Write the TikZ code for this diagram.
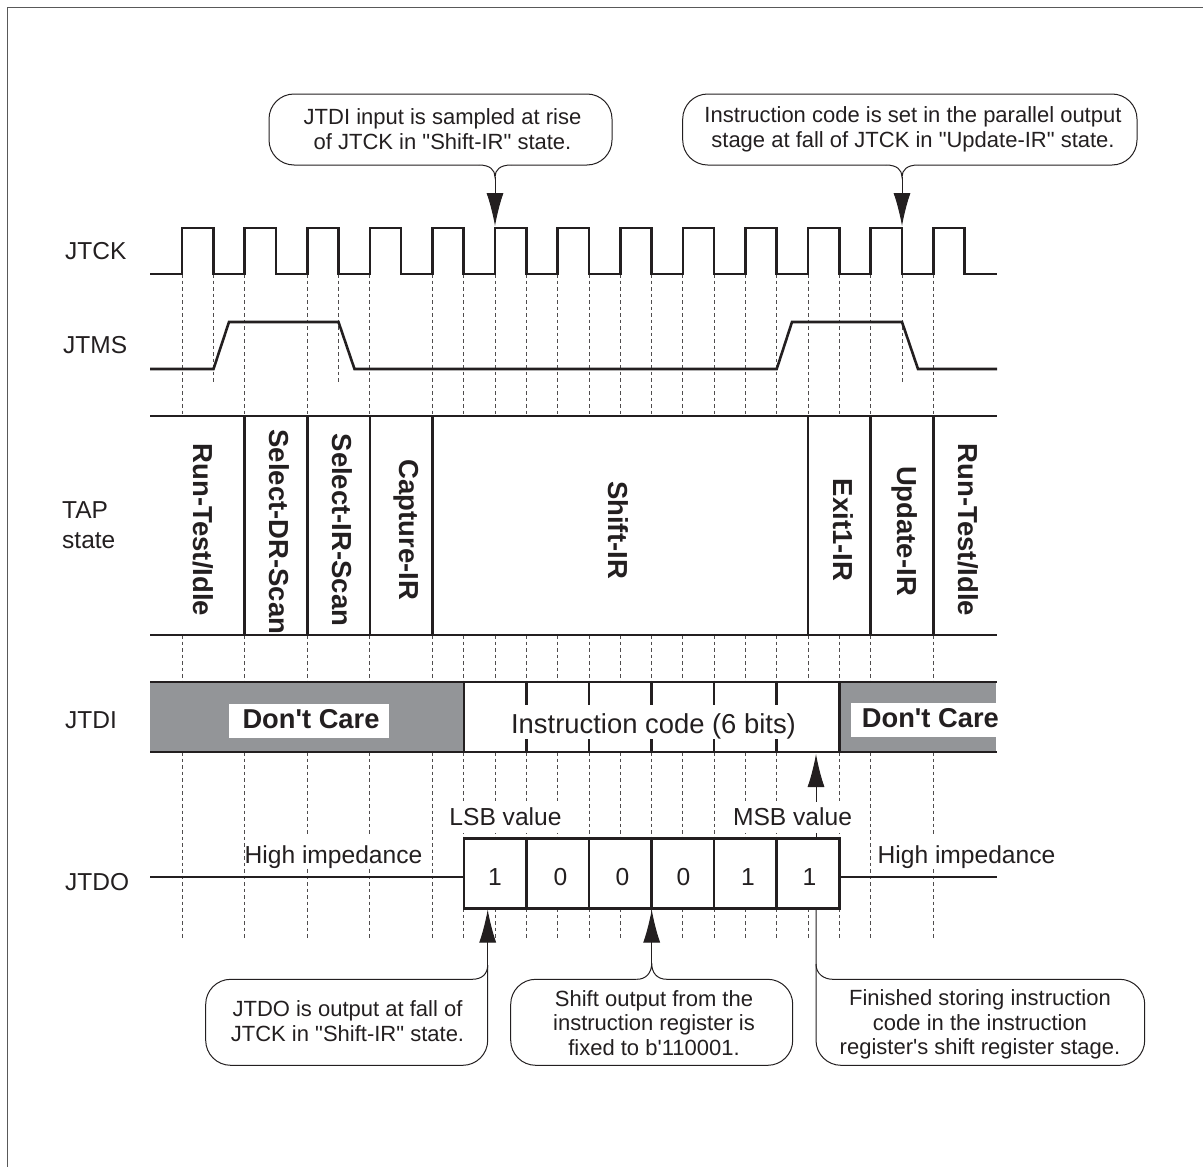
\documentclass[tikz,border=0pt]{standalone}
\usepackage{fontspec}
\setmainfont{Liberation Sans}[Ligatures=TeXOff]
\usetikzlibrary{arrows.meta, calc}

\definecolor{inkdark}{HTML}{231F20}
\definecolor{maskgray}{HTML}{939598}

\tikzset{
  wave/.style={line width=2.6pt, color=inkdark, line join=miter},
  gridline/.style={line width=0.7pt, color=inkdark!80, dash pattern=on 3.5pt off 3pt},
  thinline/.style={line width=1pt, color=inkdark},
  bubble/.style={line width=1pt, color=inkdark, rounded corners=25pt},
  pointer/.style={line width=1pt, color=inkdark, -{Latex[length=33pt, width=17pt]}},
  note/.style={font=\fontsize{22}{24.8}\selectfont, align=center, inner sep=0pt, text=inkdark},
  siglabel/.style={font=\fontsize{24.5}{30}\selectfont, anchor=west, inner sep=0pt, text=inkdark},
  tapstate/.style={font=\fontsize{27.5}{30}\selectfont\bfseries, rotate=-90, inner sep=0pt, text=inkdark},
  bitvalue/.style={font=\fontsize{24.6}{30}\selectfont, inner sep=0pt, text=inkdark},
  gaplabel/.style={font=\fontsize{24.6}{30}\selectfont, fill=white, inner sep=0pt, text=inkdark},
  dontcare/.style={font=\fontsize{27.3}{30}\selectfont\bfseries, inner sep=0pt, text=inkdark}
}

\begin{document}
\begin{tikzpicture}[x=1pt, y=-1pt]
  \useasboundingbox (0,0) rectangle (1203,1167);

  % Outer frame (top and left only)
  \draw[line width=1.8pt, color=black!65] (7.5,1167) -- (7.5,7.5) -- (1203,7.5);

  % Dashed clock-edge guides
  \foreach \k in {0,2,4,6,8,9,...,22,24} {
    \draw[gridline] ({182+31.3*\k},274) -- ({182+31.3*\k},416);
    \draw[gridline] ({182+31.3*\k},635) -- ({182+31.3*\k},682);
  }
  \foreach \k in {1,5,23} \draw[gridline] ({182+31.3*\k},274) -- ({182+31.3*\k},382);
  \foreach \k in {0,2,4,6,8,9,...,19,21,22,24} \draw[gridline] ({182+31.3*\k},752) -- ({182+31.3*\k},940);
  \draw[gridline] ({182+31.3*20},908) -- ({182+31.3*20},940);

  % JTCK
  \node[siglabel] (jtck) at (65,251) {JTCK};
  \draw[wave] (150,274)
    foreach \k in {0,2,...,24} {
      -- ({182+31.3*\k},274) -- ({182+31.3*\k},228) -- ({182+31.3*(\k+1)},228) -- ({182+31.3*(\k+1)},274)
    } -- (997,274);

  % JTMS
  \node[siglabel] (jtms) at (63,345) {JTMS};
  \draw[wave] (150,369) -- (213.5,369) -- (229,322) -- (338.5,322) -- (354.5,369)
    -- (776.7,369) -- (792,322) -- (902,322) -- (918,369) -- (997,369);

  % TAP state
  \node[siglabel, align=left, font=\fontsize{24.5}{30}\selectfont] (tap) at (62,525) {TAP\\state};
  \draw[wave] (150,416) -- (997,416);
  \draw[wave] (150,635) -- (997,635);
  \foreach \k in {2,4,6,8,20,22,24} \draw[wave] ({182+31.3*\k},416) -- ({182+31.3*\k},635);
  \node[tapstate] (s1) at (203,530) {Run-Test/Idle};
  \node[tapstate] (s2) at (279,532) {Select-DR-Scan};
  \node[tapstate] (s3) at (342,530) {Select-IR-Scan};
  \node[tapstate] (s4) at (406,530) {Capture-IR};
  \node[tapstate] (s5) at (618,530) {Shift-IR};
  \node[tapstate] (s6) at (843,530) {Exit1-IR};
  \node[tapstate] (s7) at (905,531) {Update-IR};
  \node[tapstate] (s8) at (968,530) {Run-Test/Idle};

  % JTDI
  \node[siglabel] (jtdi) at (65,720) {JTDI};
  \fill[maskgray] (150,682) rectangle (464,752);
  \fill[maskgray] (839.7,682) rectangle (996,752);
  \fill[white] (464,682) rectangle (839.7,752);
  \foreach \k in {11,13,...,19} \draw[wave] ({182+31.3*\k},682) -- ({182+31.3*\k},752);
  \draw[wave] (464,682) -- (464,752);
  \draw[wave] (839.7,682) -- (839.7,752);
  \draw[wave] (150,682) -- (997,682);
  \draw[wave] (150,752) -- (997,752);
  \fill[white] (229,704) rectangle (389,737.7);
  \node[dontcare] (dc1) at (311,719.5) {Don't Care};
  \fill[white] (851,703) rectangle (996,737);
  \node[dontcare, anchor=west] (dc2) at (861.7,718.5) {Don't Care};
  \node[fill=white, inner sep=0pt, text height=28pt, text depth=6pt, text=inkdark, font=\fontsize{27.4}{30}\selectfont] (code) at (653.5,722) {Instruction code (6 bits)};

  % JTDO
  \node[siglabel] (jtdo) at (65,882) {JTDO};
  \coordinate (msbfoot) at (816,838);
  \coordinate (msbtip) at (816,754);
  \draw[pointer] (msbfoot) -- (msbtip);
  \draw[wave, line width=2pt] (150,877) -- (464,877);
  \draw[wave, line width=2pt] (839.7,877) -- (997,877);
  \draw[wave, fill=white] (464,838.3) rectangle (839.7,908.7);
  \foreach \k in {11,13,...,19} \draw[wave] ({182+31.3*\k},838.3) -- ({182+31.3*\k},908.7);
  \foreach \x/\v in {495/1,560.5/0,622.5/0,683.5/0,748/1,809.5/1} \node[bitvalue] at (\x,877) {\v};
  \node[gaplabel, text height=23pt, text depth=8pt] (lsb) at (505.5,817.5) {LSB value};
  \node[gaplabel, text height=23pt, text depth=8pt] (msb) at (792.5,817.5) {MSB value};
  \node[gaplabel, text height=28pt, text depth=5pt] (hi1) at (333.5,851.5) {High impedance};
  \node[gaplabel, text height=28pt, text depth=5pt] (hi2) at (966.5,851.5) {High impedance};

  % Upper notes
  \node[note] (note1) at (442.5,129) {JTDI input is sampled at rise\\of JTCK in "Shift-IR" state.};
  \coordinate (tail1) at (495,177);
  \coordinate (tip1) at (495,226);
  \draw[bubble] (479,165) -| (269,94) -| (612,165) -- (511,165);
  \draw[thinline] (479,165) .. controls (490,165) and (495,170) .. (tail1) .. controls (495,170) and (500,165) .. (511,165);
  \draw[pointer] (tail1) -- (tip1);

  \node[note] (note2) at (913,129) {Instruction code is set in the parallel output\\stage at fall of JTCK in "Update-IR" state.};
  \coordinate (tail2) at (902,177);
  \coordinate (tip2) at (902,226);
  \draw[bubble] (886,165) -| (682.7,94) -| (1137,165) -- (918,165);
  \draw[thinline] (886,165) .. controls (897,165) and (902,170) .. (tail2) .. controls (902,170) and (907,165) .. (918,165);
  \draw[pointer] (tail2) -- (tip2);

  % Lower notes
  \node[note] (note3) at (347.5,1021) {JTDO is output at fall of\\JTCK in "Shift-IR" state.};
  \coordinate (tail3) at (487.7,965);
  \coordinate (tip3) at (487.7,909.5);
  \draw[bubble] (472,979.3) -| (205.7,1065.3) -| (tail3);
  \draw[thinline] (472,979.3) .. controls (482,979.3) and (487.7,974) .. (tail3);
  \draw[pointer] (tail3) -- (tip3);

  \node[note] (note4) at (654,1023) {Shift output from the\\instruction register is\\fixed to b'110001.};
  \coordinate (tail4) at (651.7,963);
  \coordinate (tip4) at (651.7,909.5);
  \draw[bubble] (636.7,979.3) -| (510.7,1065.3) -| (792.7,979.3) -- (667,979.3);
  \draw[thinline] (636.7,979.3) .. controls (646,979.3) and (651.7,973) .. (tail4) .. controls (651.7,973) and (657,979.3) .. (667,979.3);
  \draw[pointer] (tail4) -- (tip4);

  \node[note] (note5) at (980,1024.5) {Finished storing instruction\\code in the instruction\\register's shift register stage.};
  \coordinate (tail5) at (816,964);
  \coordinate (foot5) at (816,908.7);
  \draw[bubble] (foot5) |- (1144.7,1065.3) |- (833,979.3);
  \draw[thinline] (833,979.3) .. controls (824,979.3) and (816,974) .. (tail5);
\end{tikzpicture}
\end{document}
